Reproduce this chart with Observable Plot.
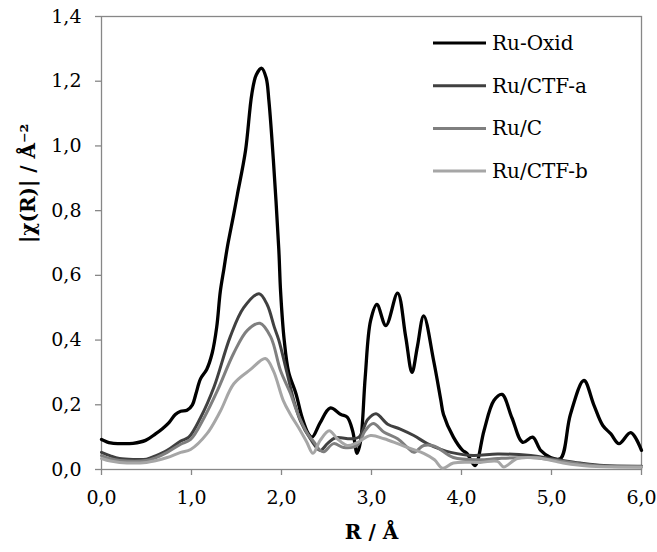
<!DOCTYPE html>
<html>
<head>
<meta charset="utf-8">
<script src="https://cdn.jsdelivr.net/npm/d3@7"></script>
<script src="https://cdn.jsdelivr.net/npm/@observablehq/plot@0.6"></script>
<style>
  html, body { margin: 0; padding: 0; background: #fff; }
</style>
</head>
<body>
<div id="chart"></div>
<script>
const seriesNames = ["Ru-Oxid", "Ru/CTF-a", "Ru/C", "Ru/CTF-b"];
const seriesColors = ["#000000", "#404040", "#7f7f7f", "#a6a6a6"];

const rOxid = [0, 0.1, 0.2, 0.35, 0.49, 0.6, 0.68, 0.75, 0.82, 0.88, 0.95, 1.01, 1.05, 1.1, 1.17, 1.23, 1.28, 1.32, 1.36, 1.4, 1.47, 1.51, 1.6, 1.67, 1.72, 1.78, 1.83, 1.86, 1.91, 1.97, 1.99, 2.03, 2.08, 2.16, 2.23, 2.3, 2.34, 2.43, 2.54, 2.66, 2.73, 2.79, 2.84, 2.88, 2.93, 2.99, 3.06, 3.16, 3.29, 3.38, 3.45, 3.51, 3.58, 3.69, 3.77, 3.8, 3.91, 4.01, 4.06, 4.15, 4.25, 4.36, 4.45, 4.56, 4.68, 4.79, 4.88, 4.99, 5.1, 5.21, 5.36, 5.47, 5.57, 5.66, 5.75, 5.88, 6.0];
const chiOxid = [0.093, 0.082, 0.08, 0.081, 0.09, 0.11, 0.127, 0.145, 0.17, 0.18, 0.183, 0.2, 0.235, 0.28, 0.31, 0.36, 0.44, 0.55, 0.62, 0.69, 0.79, 0.85, 0.985, 1.16, 1.22, 1.24, 1.21, 1.14, 0.955, 0.68, 0.55, 0.40, 0.30, 0.235, 0.16, 0.11, 0.1, 0.145, 0.19, 0.17, 0.162, 0.12, 0.05, 0.09, 0.285, 0.46, 0.51, 0.445, 0.545, 0.41, 0.30, 0.38, 0.475, 0.337, 0.215, 0.17, 0.1, 0.06, 0.05, 0.012, 0.12, 0.213, 0.232, 0.16, 0.084, 0.1, 0.059, 0.037, 0.034, 0.17, 0.275, 0.2, 0.136, 0.11, 0.08, 0.114, 0.059];

const rCtfA = [0, 0.1, 0.2, 0.35, 0.5, 0.6, 0.73, 0.88, 0.97, 1.1, 1.25, 1.43, 1.58, 1.75, 1.84, 1.92, 1.97, 2.06, 2.14, 2.21, 2.32, 2.43, 2.51, 2.6, 2.77, 2.86, 2.96, 3.05, 3.18, 3.32, 3.47, 3.62, 3.77, 3.88, 4.13, 4.4, 4.77, 4.99, 5.32, 5.58, 6.0];
const chiCtfA = [0.053, 0.042, 0.034, 0.031, 0.032, 0.042, 0.059, 0.088, 0.1, 0.16, 0.255, 0.41, 0.5, 0.543, 0.51, 0.44, 0.40, 0.30, 0.21, 0.15, 0.095, 0.059, 0.08, 0.098, 0.095, 0.1, 0.155, 0.172, 0.14, 0.125, 0.105, 0.08, 0.062, 0.053, 0.043, 0.048, 0.043, 0.034, 0.02, 0.012, 0.01];

const rRuC = [0, 0.1, 0.2, 0.5, 0.6, 0.73, 0.88, 0.99, 1.14, 1.29, 1.47, 1.62, 1.76, 1.88, 1.99, 2.1, 2.17, 2.29, 2.36, 2.43, 2.47, 2.58, 2.69, 2.84, 2.93, 3.02, 3.14, 3.29, 3.4, 3.47, 3.58, 3.7, 3.91, 4.2, 4.4, 4.77, 5.0, 5.3, 5.6, 6.0];
const chiRuC = [0.043, 0.033, 0.028, 0.028, 0.036, 0.053, 0.078, 0.093, 0.16, 0.245, 0.36, 0.43, 0.452, 0.41, 0.305, 0.235, 0.18, 0.11, 0.085, 0.059, 0.055, 0.08, 0.068, 0.074, 0.12, 0.142, 0.115, 0.095, 0.068, 0.053, 0.074, 0.072, 0.037, 0.03, 0.034, 0.037, 0.03, 0.018, 0.01, 0.008];

const rCtfB = [0, 0.1, 0.2, 0.5, 0.6, 0.73, 0.88, 0.99, 1.17, 1.32, 1.47, 1.66, 1.82, 1.91, 2.02, 2.1, 2.21, 2.28, 2.35, 2.43, 2.53, 2.62, 2.73, 2.84, 2.99, 3.14, 3.29, 3.43, 3.58, 3.7, 3.79, 3.91, 4.21, 4.4, 4.47, 4.62, 4.84, 5.13, 5.43, 6.0];
const chiCtfB = [0.034, 0.026, 0.022, 0.022, 0.027, 0.037, 0.053, 0.062, 0.11, 0.18, 0.265, 0.31, 0.343, 0.305, 0.213, 0.17, 0.12, 0.085, 0.05, 0.09, 0.12, 0.095, 0.074, 0.083, 0.105, 0.095, 0.08, 0.065, 0.05, 0.03, 0.004, 0.02, 0.022, 0.025, 0.008, 0.034, 0.036, 0.02, 0.01, 0.008];

const xTicks = [0, 1, 2, 3, 4, 5, 6];
const yTicks = [0, 0.2, 0.4, 0.6, 0.8, 1.0, 1.2, 1.4];

const seriesR = [rOxid, rCtfA, rRuC, rCtfB];
const seriesChi = [chiOxid, chiCtfA, chiRuC, chiCtfB];

const rows = seriesNames.flatMap((name, i) =>
  seriesR[i].map((r, j) => ({series: name, r, chi: seriesChi[i][j], order: i}))
);

const axisColor = "#878787";
const fmt = d => d.toFixed(1).replace(".", ",");

const drawOrder = [0, 1, 2, 3];

const plot = Plot.plot({
  width: 657,
  height: 552,
  marginLeft: 101,
  marginRight: 16,
  marginTop: 16,
  marginBottom: 83,
  style: {fontFamily: "'DejaVu Serif', serif", fontSize: "19px", color: "#000", background: "#fff", overflow: "visible"},
  x: {domain: [0, 6]},
  y: {domain: [0, 1.4]},
  color: {domain: seriesNames, range: seriesColors},
  marks: [
    Plot.frame({stroke: axisColor, strokeWidth: 1.3}),
    Plot.axisX({ticks: xTicks, tickFormat: fmt, tickSize: 6, tickPadding: 15, stroke: axisColor, strokeWidth: 1.3, fill: "#000", label: null}),
    Plot.axisY({ticks: yTicks, tickFormat: fmt, tickSize: 6, tickPadding: 14, stroke: axisColor, strokeWidth: 1.3, fill: "#000", label: null}),
    ...drawOrder.map(i => Plot.line(rows.filter(d => d.order === i), {
      x: "r", y: "chi", stroke: "series", strokeWidth: i === 0 ? 3.3 : 3, curve: "catmull-rom", strokeLinejoin: "round"
    })),
    Plot.text([seriesNames[0]], {frameAnchor: "bottom", dy: 69, text: () => "R / Å", fontWeight: "bold", fontSize: 20}),
    Plot.text([seriesNames[0]], {frameAnchor: "left", dx: -73, rotate: -90, text: () => "|χ(R)| / Å⁻²", fontWeight: "bold", fontSize: 20})
  ]
});

document.getElementById("chart").appendChild(plot);

// Legend drawn inside the plot's SVG
const svg = d3.select(plot);
const lg = svg.append("g")
  .attr("font-family", "'DejaVu Serif', serif")
  .attr("font-size", 20)
  .attr("text-anchor", "start");
seriesNames.forEach((name, i) => {
  const y = 43 + i * 42.7;
  lg.append("line").attr("x1", 433).attr("x2", 486).attr("y1", y).attr("y2", y)
    .attr("stroke", seriesColors[i]).attr("stroke-width", 3);
  lg.append("text").attr("x", 492).attr("y", y).attr("dy", "0.35em")
    .attr("text-anchor", "start").attr("fill", "#000").text(name);
});
</script>
</body>
</html>
